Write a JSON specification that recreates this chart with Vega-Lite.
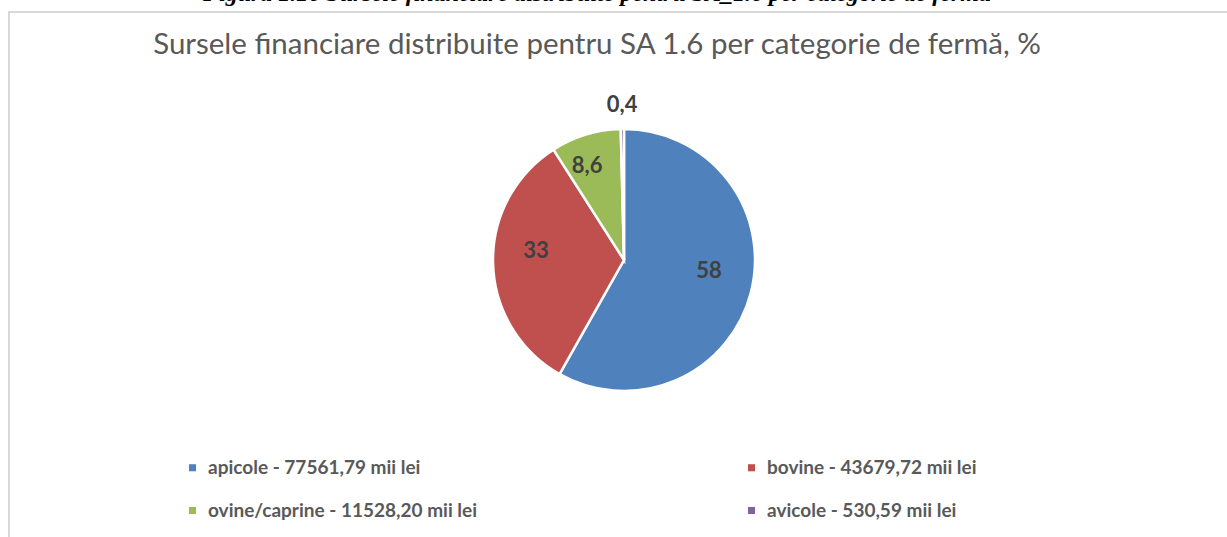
{
  "$schema": "https://vega.github.io/schema/vega-lite/v6.json",
  "width": 1230,
  "height": 530,
  "autosize": {"type": "none"},
  "padding": {"left": 9, "top": 12, "right": -12, "bottom": -5},
  "background": "white",
  "view": {"stroke": "#d9d9d9", "strokeWidth": 2},
  "config": {
    "view": {"stroke": "#d9d9d9", "strokeWidth": 2},
    "font": "Lato"
  },
  "title": {
    "text": "Figura 1.16 Sursele financiare distribuite pentru SA_1.6 per categorie de fermă",
    "subtitle": "Sursele financiare distribuite pentru SA 1.6 per categorie de fermă, %",
    "anchor": "middle",
    "frame": "group",
    "dx": -27,
    "offset": -47,
    "font": "Liberation Serif",
    "fontSize": 24,
    "fontStyle": "italic",
    "fontWeight": "bold",
    "color": "#000000",
    "subtitleFont": "Lato",
    "subtitleFontSize": 29.5,
    "subtitleFontWeight": "normal",
    "subtitleColor": "#595959",
    "subtitlePadding": 25
  },
  "data": {
    "values": [
      {"categorie": "apicole - 77561,79 mii lei", "valoare": 77561.79, "eticheta": "58", "ord": 1},
      {"categorie": "bovine - 43679,72 mii lei", "valoare": 43679.72, "eticheta": "33", "ord": 2},
      {"categorie": "ovine/caprine - 11528,20 mii lei", "valoare": 11528.20, "eticheta": "8,6", "ord": 3},
      {"categorie": "avicole - 530,59 mii lei", "valoare": 530.59, "eticheta": "0,4", "ord": 4}
    ]
  },
  "layer": [
    {
      "mark": {"type": "arc", "outerRadius": 131, "stroke": "white", "strokeWidth": 2.5, "y": {"expr": "height/2 - 17"}},
      "encoding": {
        "theta": {"field": "valoare", "type": "quantitative", "stack": true},
        "order": {"field": "ord", "type": "quantitative"},
        "color": {
          "field": "categorie",
          "type": "nominal",
          "scale": {
            "domain": ["apicole - 77561,79 mii lei", "bovine - 43679,72 mii lei", "ovine/caprine - 11528,20 mii lei", "avicole - 530,59 mii lei"],
            "range": ["#4F81BD", "#C0504D", "#9BBB59", "#8064A2"]
          },
          "legend": {
            "title": null,
            "orient": "none",
            "direction": "horizontal",
            "legendX": 174,
            "legendY": 446,
            "columns": 2,
            "columnPadding": 264,
            "rowPadding": 23,
            "symbolType": "square",
            "symbolSize": 50,
            "symbolStrokeWidth": 0,
            "labelFont": "Lato",
            "labelFontSize": 19,
            "labelFontWeight": "bold",
            "labelColor": "#595959",
            "labelOffset": 6,
            "labelLimit": 500
          }
        }
      }
    },
    {
      "mark": {"type": "text", "radius": 88, "dy": -11, "font": "Lato", "fontSize": 22, "fontWeight": "bold", "color": "#404040", "y": {"expr": "height/2 - 17"}},
      "encoding": {
        "theta": {"field": "valoare", "type": "quantitative", "stack": true},
        "order": {"field": "ord", "type": "quantitative"},
        "text": {"condition": {"test": "datum.ord >= 3", "value": ""}, "field": "eticheta", "type": "nominal"}
      }
    },
    {
      "mark": {"type": "text", "radius": 92, "dx": -10, "dy": -6, "font": "Lato", "fontSize": 22, "fontWeight": "bold", "color": "#404040", "y": {"expr": "height/2 - 17"}},
      "encoding": {
        "theta": {"field": "valoare", "type": "quantitative", "stack": true},
        "order": {"field": "ord", "type": "quantitative"},
        "text": {"condition": {"test": "datum.ord != 3", "value": ""}, "field": "eticheta", "type": "nominal"}
      }
    },
    {
      "mark": {"type": "text", "radius": 155, "font": "Lato", "fontSize": 22, "fontWeight": "bold", "color": "#404040", "y": {"expr": "height/2 - 17"}},
      "encoding": {
        "theta": {"field": "valoare", "type": "quantitative", "stack": true},
        "order": {"field": "ord", "type": "quantitative"},
        "text": {"condition": {"test": "datum.ord != 4", "value": ""}, "field": "eticheta", "type": "nominal"}
      }
    }
  ]
}
